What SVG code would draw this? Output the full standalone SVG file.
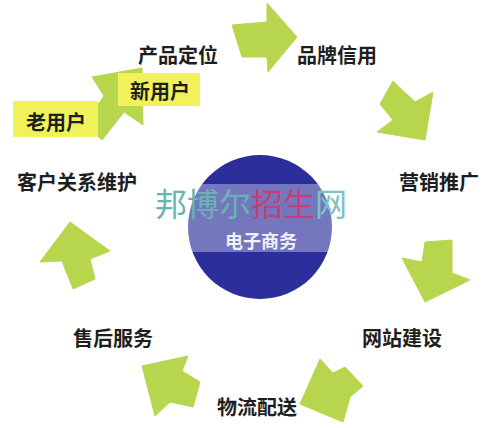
<svg xmlns="http://www.w3.org/2000/svg" width="500" height="428" viewBox="0 0 500 428">
<style>
.arrow{fill:#b7d64e;stroke:#b7d64e;stroke-width:1;stroke-linejoin:round}
.lbl{font-family:"Noto Sans CJK SC","Liberation Sans",sans-serif;font-size:20px;font-weight:700;fill:#1e1e1e;text-anchor:middle}
.box{fill:#f1f25a}
.wm{font-family:"Noto Sans CJK SC","Liberation Serif",serif;font-size:32px;font-weight:400;text-anchor:middle}
</style>
<rect width="500" height="428" fill="#ffffff"/>
<g id="connectors">
<polygon class="arrow" points="232,25 267,22 267,3 297,37 268,72 267,57 242,57"/>
<polygon class="arrow" points="393,81 415,102 433,92 425,140 377,132 393,120 380,104"/>
<polygon class="arrow" points="425,242 452,240 452,273 470,280 425,302 402,258 422,262"/>
<polygon class="arrow" points="300,404 320,359 333,373 345,367 363,386 350,397 343,422"/>
<polygon class="arrow" points="142,366 188,356 182,371 200,382 193,407 170,402 155,416"/>
<polygon class="arrow" points="70,222 110,251 90,259 95,279 73,289 62,261 40,262"/>
<polygon class="arrow" points="142,68 92,77 104,96 84,124 102,140 124,112 143,125"/>
</g>
<g id="center">
<circle cx="260" cy="227" r="72" fill="#2c2f9b"/>
</g>
<g id="watermark">
<rect x="140" y="184" width="220" height="68" fill="#ffffff" opacity="0.35"/>
<text class="wm" x="251" y="216"><tspan fill="#6ab3b0">邦博尔</tspan><tspan fill="#c43f74">招生</tspan><tspan fill="#7cc2c0">网</tspan></text>
</g>
<g id="center-label">
<text class="lbl" x="261" y="248" style="fill:#ffffff;font-size:18px;opacity:0.9">电子商务</text>
</g>
<g id="n-chanpin"><text class="lbl" x="178" y="63">产品定位</text></g>
<g id="n-pinpai"><text class="lbl" x="337" y="63">品牌信用</text></g>
<g id="n-yingxiao"><text class="lbl" x="439" y="190">营销推广</text></g>
<g id="n-wangzhan"><text class="lbl" x="402" y="346">网站建设</text></g>
<g id="n-wuliu"><text class="lbl" x="257" y="415">物流配送</text></g>
<g id="n-shouhou"><text class="lbl" x="113" y="346">售后服务</text></g>
<g id="n-kehu"><text class="lbl" x="77" y="190">客户关系维护</text></g>
<g id="n-laoyonghu">
<rect class="box" x="13" y="101" width="85" height="36"/>
<text class="lbl" x="56" y="130">老用户</text>
</g>
<g id="n-xinyonghu">
<rect class="box" x="118" y="73" width="82" height="33"/>
<text class="lbl" x="160" y="99">新用户</text>
</g>
</svg>
